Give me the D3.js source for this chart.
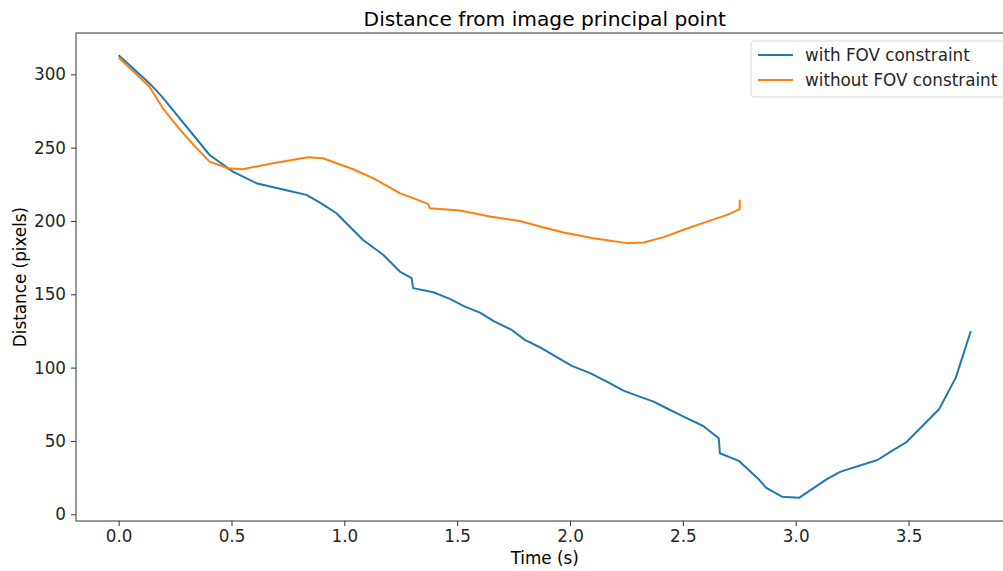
<!DOCTYPE html>
<html>
<head>
<meta charset="utf-8">
<script src="https://cdn.jsdelivr.net/npm/d3@7"></script>
<style>
  body { margin: 0; background: #fff; }
  svg { display: block; font-family: "DejaVu Sans", sans-serif; }
</style>
</head>
<body>
<div class="container"></div>
<script>
// DATA
const withTime = [0, 0.136, 0.191, 0.403, 0.506, 0.61, 0.743, 0.832, 0.898, 0.965, 1.083, 1.172, 1.246, 1.298, 1.305,
  1.394, 1.468, 1.534, 1.601, 1.66, 1.742, 1.8, 1.875, 2.008, 2.089, 2.163, 2.237, 2.296, 2.37, 2.437, 2.503, 2.59,
  2.659, 2.664, 2.75, 2.836, 2.868, 2.939, 3.016, 3.14, 3.199, 3.362, 3.421, 3.49, 3.635, 3.709, 3.776];
const withDist = [313, 294, 285, 245, 233.7, 225.8, 221, 217.8, 212, 205.3, 187, 177, 165.5, 161, 154.2,
  151.4, 146.9, 141.6, 137.5, 131.9, 125.7, 118.9, 113.2, 101.2, 96.2, 90.5, 84.3, 80.9, 76.8, 71.6, 66.6, 60.2,
  51.8, 41.6, 36.2, 23.9, 18.1, 12, 11.3, 24.1, 29.1, 37, 42.7, 49.1, 71.6, 93, 125];

const withoutTime = [0, 0.136, 0.195, 0.27, 0.336, 0.403, 0.484, 0.55, 0.684, 0.839, 0.905, 1.039, 1.127, 1.246,
  1.371, 1.379, 1.512, 1.645, 1.778, 1.867, 1.971, 2.104, 2.252, 2.326, 2.415, 2.503, 2.607, 2.696, 2.752, 2.752];
const withoutDist = [311.5, 291.7, 277, 262.6, 251.2, 240.5, 236, 235.3, 239.4, 243.5, 242.8, 235.3, 229.2, 219,
  211.7, 208.7, 207.1, 203, 200, 196.2, 192.1, 188.3, 184.9, 185.3, 189, 194, 199.6, 204.2, 208.1, 214.4];

const seriesNames = ["with FOV constraint", "without FOV constraint"];
const seriesColors = ["#1f77b4", "#ff7f0e"];
const xTicks = [0, 0.5, 1, 1.5, 2, 2.5, 3, 3.5];
const yTicks = [0, 50, 100, 150, 200, 250, 300];

// SETUP
const width = 1003;
const height = 571;
const plot = { left: 76, right: 1013.5, top: 33, bottom: 521 };
const fontSize = "16.8px";

const svg = d3.select(".container")
  .append("svg")
  .attr("width", width)
  .attr("height", height);

const xScale = d3.scaleLinear()
  .domain([-0.189, 3.965])
  .range([plot.left, plot.right]);

const yScale = d3.scaleLinear()
  .domain([-4.6, 328.2])
  .range([plot.bottom, plot.top]);

// axes
const xAxis = svg.append("g")
  .attr("transform", `translate(0,${plot.bottom})`)
  .call(d3.axisBottom(xScale).tickValues(xTicks).tickFormat(d3.format(".1f")).tickSize(5).tickSizeOuter(0));

const yAxis = svg.append("g")
  .attr("transform", `translate(${plot.left},0)`)
  .call(d3.axisLeft(yScale).tickValues(yTicks).tickSize(5).tickPadding(5).tickSizeOuter(0));

[xAxis, yAxis].forEach(g => {
  g.select(".domain").remove();
  g.selectAll(".tick line").attr("stroke", "#333").attr("stroke-width", 1);
  g.selectAll(".tick text")
    .attr("fill", "#262626")
    .style("font-size", fontSize)
    .style("font-family", "DejaVu Sans");
});
xAxis.selectAll(".tick text").attr("y", 20.5).attr("dy", 0);

// spines
svg.append("rect")
  .attr("x", plot.left)
  .attr("y", plot.top)
  .attr("width", plot.right - plot.left)
  .attr("height", plot.bottom - plot.top)
  .attr("fill", "none")
  .attr("stroke", "#333")
  .attr("stroke-width", 1);

// lines
const lineGen = d3.line()
  .x(d => xScale(d[0]))
  .y(d => yScale(d[1]));

const series = [
  d3.zip(withTime, withDist),
  d3.zip(withoutTime, withoutDist)
];

series.forEach((s, i) => {
  svg.append("path")
    .datum(s)
    .attr("d", lineGen)
    .attr("fill", "none")
    .attr("stroke", seriesColors[i])
    .attr("stroke-width", 2)
    .attr("stroke-linejoin", "round");
});

// title and labels
svg.append("text")
  .attr("x", (plot.left + plot.right) / 2)
  .attr("y", 26)
  .attr("text-anchor", "middle")
  .attr("fill", "#000")
  .style("font-size", "20.2px")
  .text("Distance from image principal point");

svg.append("text")
  .attr("x", (plot.left + plot.right) / 2)
  .attr("y", 564)
  .attr("text-anchor", "middle")
  .style("font-size", fontSize)
  .text("Time (s)");

svg.append("text")
  .attr("transform", `translate(25.5,${(plot.top + plot.bottom) / 2}) rotate(-90)`)
  .attr("text-anchor", "middle")
  .style("font-size", fontSize)
  .text("Distance (pixels)");

// legend
const legend = svg.append("g").attr("transform", "translate(751,41)");
legend.append("rect")
  .attr("width", 262)
  .attr("height", 56)
  .attr("rx", 3)
  .attr("fill", "#fff")
  .attr("stroke", "#d6d6d6");

seriesNames.forEach((name, i) => {
  const row = legend.append("g").attr("transform", `translate(0,${14 + i * 25})`);
  row.append("line")
    .attr("x1", 7).attr("x2", 42)
    .attr("stroke", seriesColors[i])
    .attr("stroke-width", 2);
  row.append("text")
    .attr("x", 54)
    .attr("dy", "0.35em")
    .attr("fill", "#262626")
    .style("font-size", fontSize)
    .text(name);
});
</script>
</body>
</html>
